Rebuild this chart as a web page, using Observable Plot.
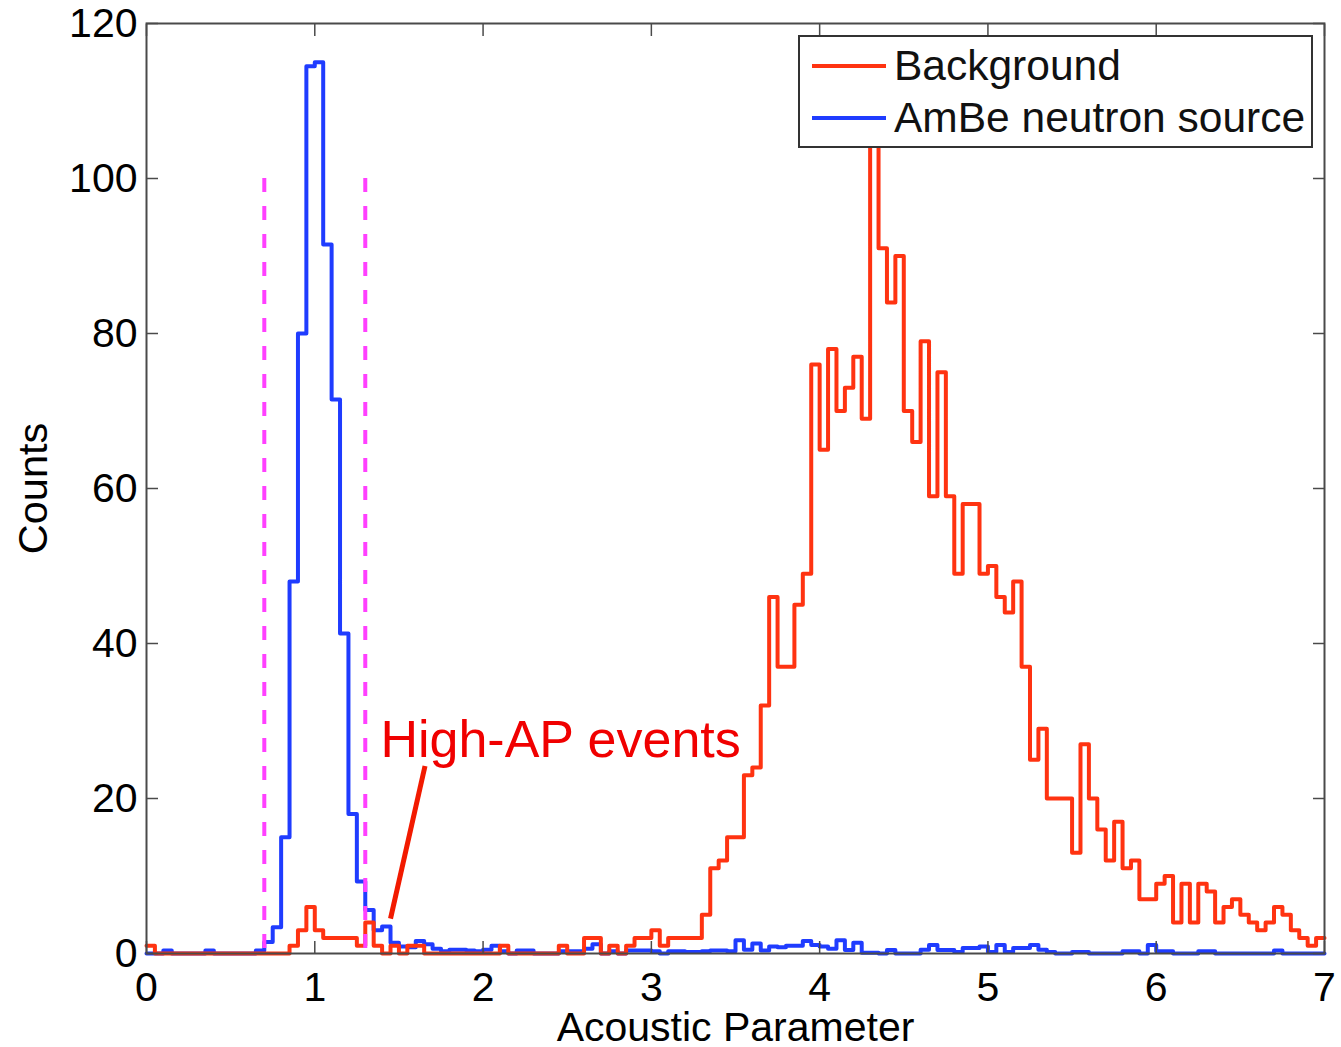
<!DOCTYPE html>
<html>
<head>
<meta charset="utf-8">
<script src="https://cdn.jsdelivr.net/npm/d3@7"></script>
<script src="https://cdn.jsdelivr.net/npm/@observablehq/plot@0.6"></script>
<style>
  body { margin: 0; background: #fff; }
  #wrap { position: relative; width: 1341px; height: 1047px; font-family: "Liberation Sans", Arial, sans-serif; }
  #legend { position: absolute; left: 0; top: 0; pointer-events: none; }
</style>
</head>
<body>
<div id="wrap"></div>
<script>
// ---- data ----
const binWidth = 0.05;
const background = [
  1,0,0,0,0,0,0,0,0,0,
  0,0,0,0,0,0,0,1,3,6,
  3,2,2,2,2,1,4,1,0,1,
  0,1,1,0,0,0,0,0,0,0,
  0,0,1,0,0,0,0,0,0,1,
  0,0,2,2,0,1,0,1,2,2,
  3,1,2,2,2,2,5,11,12,15,
  15,23,24,32,46,37,37,45,49,76,
  65,78,70,73,77,69,106,91,84,90,
  70,66,79,59,75,59,49,58,58,49,
  50,46,44,48,37,25,29,20,20,20,
  13,27,20,16,12,17,11,12,7,7,
  9,10,4,9,4,9,8,4,6,7,
  5,4,3,4,6,5,3,2,1,2
];
const ambe = [
  0,0,0.4,0,0,0,0,0.4,0,0,
  0,0,0,0.4,1.5,3.4,15,48,80,114.5,
  115,91.5,71.5,41.3,18,9.3,5.6,3,3.5,1.4,
  0.9,0.8,1.6,1.2,0.6,0.3,0.5,0.5,0.4,0.3,
  0.5,1.0,0.3,0,0.4,0.4,0,0,0,0.3,
  0.3,0.3,0.6,1.2,0,0.3,0,0.4,0.4,0.4,
  0.3,0,0.3,0.3,0.2,0.2,0.3,0.4,0.4,0.3,
  1.7,0.5,1.3,0.4,0.9,0.8,1.0,1.0,1.6,1.1,
  0.9,0.6,1.7,0.45,1.4,0.1,0.1,0,0.45,0,
  0,0,0.5,1.1,0.45,0.45,0.2,0.7,0.7,0.9,
  0.2,1.1,0.2,0.7,0.7,1.1,0.5,0.2,0,0,
  0.2,0.2,0,0,0,0,0.3,0.3,0,1.1,
  0.3,0.3,0,0,0,0.3,0.3,0,0,0,
  0,0,0,0,0.4,0,0,0,0,0
];
const seriesNames = ["Background", "AmBe neutron source"];
const xTicks = [0,1,2,3,4,5,6,7];
const yTicks = [0,20,40,60,80,100,120];
const cutX = [0.7, 1.3];
const cutTop = 100;
const annotText = ["High-AP events"];
const annotX = [1.39];
const annotY = [25.3];
const arrowFrom = [1.655, 24.2];
const arrowTo = [1.45, 4.5];
const xLabel = "Acoustic Parameter";
const yLabel = "Counts";

const RED = "#ff3311", BLUE = "#1f3cff", MAGENTA = "#ff40ff", AXIS = "#4a4a4a";

function steps(vals) {
  const d = vals.map((v, i) => ({x: +(i * binWidth).toFixed(2), y: v}));
  d.push({x: +(vals.length * binWidth).toFixed(2), y: vals[vals.length - 1]});
  return d;
}

const noText = () => "";
const plot = Plot.plot({
  width: 1341, height: 1047,
  marginLeft: 146, marginRight: 17, marginTop: 23, marginBottom: 94,
  x: {domain: [0, 7]},
  y: {domain: [0, 120]},
  style: {fontFamily: "'Liberation Sans', Arial, sans-serif", fontSize: "41px", color: "#000", background: "#fff", overflow: "visible"},
  marks: [
    Plot.lineY(steps(ambe), {x: "x", y: "y", curve: "step-after", stroke: BLUE, strokeWidth: 4}),
    Plot.lineY(steps(background), {x: "x", y: "y", curve: "step-after", stroke: RED, strokeWidth: 4}),
    Plot.ruleX(cutX, {x: d => d, y1: cutTop, y2: 0, stroke: MAGENTA, strokeWidth: 4, strokeDasharray: "14,14"}),
    Plot.link([0], {x1: () => arrowFrom[0], y1: () => arrowFrom[1], x2: () => arrowTo[0], y2: () => arrowTo[1], stroke: "#f21a00", strokeWidth: 5}),
    Plot.text(annotText, {x: annotX, y: annotY, text: d => d, textAnchor: "start", lineAnchor: "bottom", fill: "#f00000", fontSize: 52}),
    Plot.frame({stroke: AXIS, strokeWidth: 2}),
    Plot.axisX(xTicks, {anchor: "bottom", tickSize: -12, tickFormat: noText, stroke: AXIS, strokeWidth: 1.5, label: null}),
    Plot.axisX(xTicks, {anchor: "top", tickSize: -12, tickFormat: noText, stroke: AXIS, strokeWidth: 1.5, label: null}),
    Plot.axisY(yTicks, {anchor: "left", tickSize: -12, tickFormat: noText, stroke: AXIS, strokeWidth: 1.5, label: null}),
    Plot.axisY(yTicks, {anchor: "right", tickSize: -12, tickFormat: noText, stroke: AXIS, strokeWidth: 1.5, label: null}),
    Plot.axisX(xTicks, {anchor: "bottom", tickSize: 0, tickPadding: 18, tickFormat: d3.format("d"), label: null, fill: "#000"}),
    Plot.axisY(yTicks, {anchor: "left", tickSize: 0, tickPadding: 9, tickFormat: d3.format("d"), label: null, fill: "#000"}),
    Plot.text([xLabel], {frameAnchor: "bottom", dy: 58, lineAnchor: "top", textAnchor: "middle", text: d => d, fontSize: 41, fill: "#000"}),
    Plot.text([yLabel], {frameAnchor: "left", dx: -113, rotate: -90, textAnchor: "middle", lineAnchor: "middle", text: d => d, fontSize: 41.5, fill: "#000"})
  ]
});
document.getElementById("wrap").appendChild(plot);

// legend (drawn on top, like the reference's boxed legend)
const ns = "http://www.w3.org/2000/svg";
const lg = document.createElementNS(ns, "svg");
lg.setAttribute("id", "legend");
lg.setAttribute("width", 1341);
lg.setAttribute("height", 1047);
const items = [{name: seriesNames[0], color: RED, y: 66}, {name: seriesNames[1], color: BLUE, y: 118}];
let html = `<rect x="799" y="36" width="513" height="111" fill="#fff" stroke="#333" stroke-width="2"/>`;
for (const it of items) {
  html += `<line x1="812" x2="886" y1="${it.y}" y2="${it.y}" stroke="${it.color}" stroke-width="4"/>`;
  html += `<text x="894" y="${it.y + 14}" font-family="'Liberation Sans', Arial, sans-serif" font-size="42.5" fill="#111">${it.name}</text>`;
}
lg.innerHTML = html;
document.getElementById("wrap").appendChild(lg);
</script>
</body>
</html>
